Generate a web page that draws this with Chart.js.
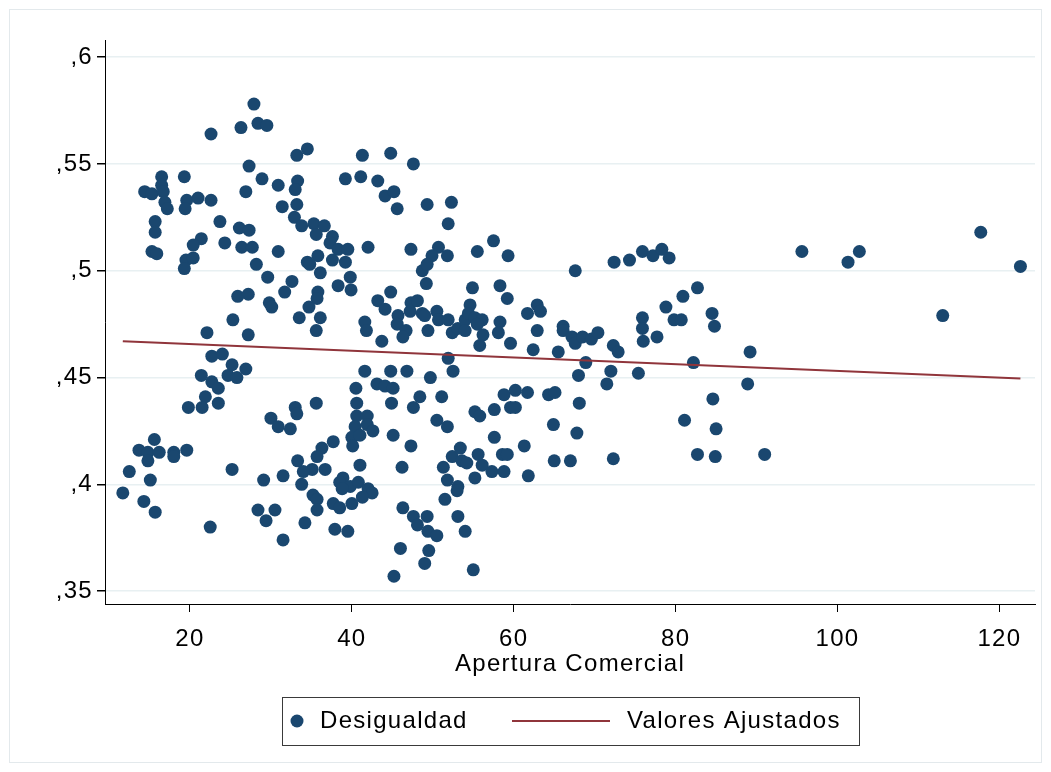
<!DOCTYPE html>
<html><head><meta charset="utf-8">
<script src="https://cdn.jsdelivr.net/npm/chart.js@4.4.1/dist/chart.umd.min.js"></script>
<style>html,body{margin:0;padding:0;background:#fff;}#wrap{width:1051px;height:772px;position:relative;}canvas{display:block}</style>
</head><body><div id="wrap"><canvas id="c" width="1051" height="772"></canvas></div>
<script>
// Apertura Comercial (x) and Desigualdad (y)
const apertura = [
27.9,26.3,28.4,29.5,22.6,27.3,28.9,30.9,16.5,19.3,14.4,15.3,16.5,16.7,16.9,17.2,19.6,21.0,19.4,22.6,
26.9,31.4,15.7,15.7,23.7,26.1,27.3,21.4,20.4,24.3,26.4,27.7,15.3,15.9,30.9,19.5,20.4,19.3,28.2,29.6,
31.7,25.9,27.2,29.8,30.1,25.3,22.1,27.2,22.7,24.0,25.2,24.7,25.8,26.9,21.4,22.7,23.5,21.9,19.8,21.5,
23.5,30.0,30.9,15.6,13.7,14.8,16.2,14.8,18.0,18.0,19.6,12.5,15.1,11.7,14.3,15.7,25.2,29.1,31.5,22.5,
28.4,30.5,29.4,31.5,34.5,33.2,41.3,44.8,47.6,39.2,41.1,43.2,33.3,33.0,44.1,45.2,45.6,49.3,52.3,51.9,
33.2,32.9,33.8,35.3,36.6,35.6,37.6,37.3,38.3,39.5,42.0,47.3,50.7,35.8,34.5,34.8,36.1,37.6,39.2,49.9,
51.8,48.7,49.3,49.2,32.6,35.8,35.7,34.7,38.3,39.8,39.9,33.5,36.1,35.6,41.6,41.8,43.2,44.8,44.1,43.7,
45.7,45.6,46.7,46.3,47.3,48.1,47.2,48.7,49.0,50.5,50.7,51.9,52.4,53.1,54.0,49.4,51.9,52.5,41.6,44.8,
46.8,49.7,40.5,43.1,44.1,45.1,44.9,40.6,48.4,47.6,51.1,35.6,33.0,33.2,40.6,41.9,50.5,32.4,40.4,41.9,
40.0,40.1,41.0,42.6,45.1,51.8,47.3,37.7,36.3,35.7,33.3,36.7,35.1,34.0,33.8,41.0,46.2,38.9,38.5,39.8,
40.8,38.8,42.0,42.5,41.3,40.0,37.7,38.5,35.2,35.7,35.7,34.2,37.9,39.5,46.3,47.6,48.1,49.3,49.4,50.5,
46.0,49.5,49.0,45.2,51.3,52.4,53.4,53.6,51.8,53.1,53.0,51.5,53.1,54.0,55.5,57.5,59.3,67.6,72.4,74.3,
75.9,54.9,58.3,59.2,54.6,54.4,55.2,56.1,55.5,54.0,58.3,58.1,56.2,55.8,59.6,61.7,62.9,63.3,62.9,62.4,
65.5,66.1,66.1,67.2,67.6,68.5,69.6,70.4,72.3,72.9,68.9,75.9,75.9,76.0,68.0,72.0,71.5,75.4,58.8,60.2,
61.7,64.3,65.1,68.1,55.2,55.8,57.6,59.6,60.2,64.9,67.8,57.6,61.3,55.6,54.2,58.6,59.2,56.1,57.3,58.8,
55.2,61.8,65.0,67.0,72.3,55.0,77.2,78.3,79.2,95.6,82.7,80.9,78.8,84.5,84.8,79.8,80.7,77.7,82.2,89.2,
88.9,84.6,81.1,85.0,82.7,84.9,91.0,101.3,102.7,113.0,117.7,122.6
];
const desigualdad = [
.578,.567,.569,.568,.564,.549,.543,.540,.544,.544,.537,.536,.540,.537,.532,.529,.533,.534,.529,.533,
.537,.530,.523,.518,.523,.520,.519,.515,.512,.513,.511,.511,.509,.508,.509,.505,.506,.501,.503,.497,
.490,.488,.489,.485,.483,.477,.471,.470,.460,.461,.456,.451,.450,.454,.451,.448,.445,.441,.436,.436,
.438,.431,.427,.421,.416,.415,.415,.411,.415,.413,.416,.406,.402,.396,.392,.387,.407,.402,.404,.380,
.388,.388,.383,.374,.557,.554,.554,.555,.550,.543,.544,.542,.542,.538,.535,.537,.529,.531,.532,.522,
.531,.525,.521,.522,.521,.517,.516,.513,.510,.510,.511,.510,.511,.507,.504,.503,.499,.505,.504,.507,
.507,.500,.503,.494,.495,.490,.487,.483,.493,.497,.491,.478,.478,.472,.476,.472,.486,.490,.482,.467,
.479,.475,.472,.469,.485,.486,.481,.480,.479,.481,.477,.477,.471,.473,.477,.472,.459,.453,.453,.453,
.453,.450,.445,.447,.446,.445,.438,.438,.441,.436,.441,.438,.436,.433,.432,.432,.430,.426,.427,.428,
.422,.418,.423,.425,.423,.427,.418,.420,.417,.413,.411,.407,.407,.406,.400,.409,.408,.403,.401,.399,
.401,.398,.398,.396,.394,.391,.391,.389,.395,.393,.388,.382,.379,.378,.389,.385,.381,.385,.378,.376,
.370,.369,.363,.357,.408,.413,.417,.411,.402,.399,.397,.393,.385,.378,.509,.514,.507,.500,.504,.505,
.509,.492,.493,.487,.484,.480,.478,.477,.475,.472,.476,.471,.470,.465,.466,.480,.484,.481,.472,.463,
.462,.474,.472,.469,.466,.469,.468,.471,.465,.462,.457,.478,.473,.467,.451,.453,.447,.452,.442,.444,
.443,.442,.443,.438,.434,.432,.435,.436,.436,.428,.424,.422,.418,.414,.410,.414,.414,.409,.406,.406,
.403,.404,.411,.411,.412,.360,.507,.510,.506,.509,.492,.488,.483,.480,.474,.477,.477,.469,.457,.462,
.447,.440,.430,.426,.414,.413,.414,.504,.509,.479,.518,.502
];
// Fitted values (Valores Ajustados), endpoints of the straight fit line
const fitX = [11.7, 122.6];
const fitY = [0.467, 0.4495];

const xTicks = [20, 40, 60, 80, 100, 120];
const yTicks = [0.35, 0.40, 0.45, 0.50, 0.55, 0.60];
const yTickLabels = [',35', ',4', ',45', ',5', ',55', ',6'];
const xTitle = 'Apertura Comercial';
const legendLabels = ['Desigualdad', 'Valores Ajustados'];

const NAVY = '#1a476f';
const MAROON = '#90353b';
const FONT = "'Liberation Sans', Arial, sans-serif";
const FS = 24;

const scatterData = apertura.map((x, i) => ({ x: x, y: desigualdad[i] }));
const fitData = fitX.map((x, i) => ({ x: x, y: fitY[i] }));

const spacingPlugin = {
  id: 'textSpacing',
  beforeDraw(chart) { chart.ctx.letterSpacing = '1.3px'; }
};

const legendPlugin = {
  id: 'stataLegend',
  afterDraw(chart) {
    const ctx = chart.ctx;
    ctx.save();
    ctx.strokeStyle = '#e3e9ec';
    ctx.lineWidth = 1;
    ctx.strokeRect(9.5, 9.5, 1032, 753);
    ctx.strokeStyle = '#3a3a3a';
    ctx.lineWidth = 1;
    ctx.strokeRect(282.5, 697.5, 577, 48);
    ctx.fillStyle = NAVY;
    ctx.beginPath();
    ctx.arc(297, 721, 6.5, 0, Math.PI * 2);
    ctx.fill();
    ctx.strokeStyle = MAROON;
    ctx.lineWidth = 2;
    ctx.beginPath();
    ctx.moveTo(512, 721);
    ctx.lineTo(610, 721);
    ctx.stroke();
    ctx.fillStyle = '#000';
    ctx.font = FS + 'px ' + FONT;
    ctx.letterSpacing = '1.3px';
    ctx.textBaseline = 'middle';
    ctx.textAlign = 'left';
    ctx.fillText(legendLabels[0], 320, 721);
    ctx.fillText(legendLabels[1], 627, 721);
    ctx.restore();
  }
};

new Chart(document.getElementById('c'), {
  type: 'scatter',
  data: {
    datasets: [
      {
        type: 'line',
        label: legendLabels[1],
        data: fitData,
        borderColor: MAROON,
        borderWidth: 2,
        pointRadius: 0,
        fill: false,
        order: 0
      },
      {
        type: 'scatter',
        label: legendLabels[0],
        data: scatterData,
        backgroundColor: NAVY,
        borderWidth: 0,
        pointRadius: 6.5,
        pointHoverRadius: 6.5,
        order: 1
      }
    ]
  },
  options: {
    responsive: false,
    animation: false,
    devicePixelRatio: 1,
    events: [],
    layout: { padding: { left: 10, top: 40, right: 16, bottom: 88 } },
    plugins: { legend: { display: false }, tooltip: { enabled: false } },
    scales: {
      x: {
        type: 'linear',
        min: 9.5,
        max: 124.4,
        afterBuildTicks: (axis) => { axis.ticks = xTicks.map(v => ({ value: v })); },
        afterFit: (scale) => { scale.height = 80; },
        ticks: {
          color: '#000',
          font: { family: FONT, size: FS },
          padding: 13,
          maxRotation: 0,
          autoSkip: false,
          callback: (v) => String(v)
        },
        grid: { drawOnChartArea: false, drawTicks: true, tickLength: 8, tickColor: '#000', lineWidth: 1 },
        border: { display: true, color: '#000', width: 1 },
        title: {
          display: true,
          text: xTitle,
          color: '#000',
          font: { family: FONT, size: FS },
          padding: { top: 0, bottom: 5 }
        }
      },
      y: {
        type: 'linear',
        min: 0.344,
        max: 0.608,
        afterBuildTicks: (axis) => { axis.ticks = yTicks.map(v => ({ value: v })); },
        afterFit: (scale) => { scale.width = 95; },
        ticks: {
          color: '#000',
          font: { family: FONT, size: FS },
          padding: 4,
          autoSkip: false,
          callback: (v) => {
            const i = yTicks.findIndex(t => Math.abs(t - v) < 1e-6);
            return i >= 0 ? yTickLabels[i] : '';
          }
        },
        grid: { drawOnChartArea: true, drawTicks: true, tickLength: 8, color: '#e8f0f2', tickColor: '#000', lineWidth: 1.5 },
        border: { display: true, color: '#000', width: 1 }
      }
    }
  },
  plugins: [spacingPlugin, legendPlugin]
});
</script>
</body></html>
